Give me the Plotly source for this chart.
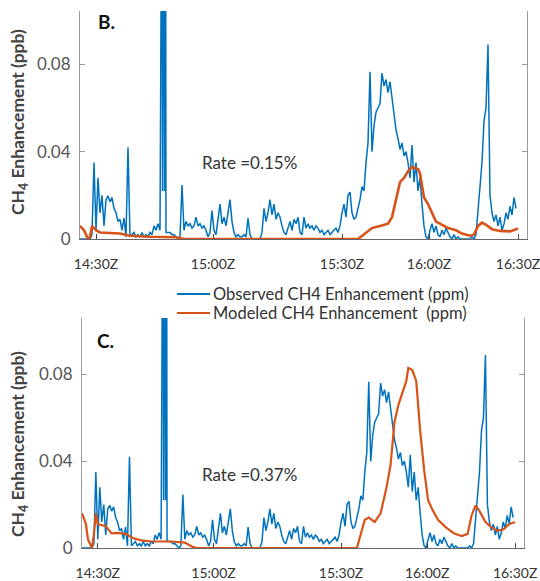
import plotly.graph_objects as go

# ---------------- data ----------------
# observed CH4 enhancement (ppm), one value per sample (sample index 0..219)
obs_ch4 = [
    0, 0, 0, 0, 0, 0, 0.002, 0.035, 0.004, 0.028,
    0.012, 0.02, 0.006, 0.018, 0.0197, 0.017, 0.019, 0.014, 0.012, 0.008,
    0.009, 0.004, 0.0096, 0.001, 0.042, 0.001, 0.002, 0.003, 0.001, 0.002,
    0.001, 0.003, 0.001, 0.002, 0.001, 0.003, 0.002, 0.006, 0.004, 0.007,
    0.004, 0.2, 0.2, 0.003, 0.003, 0.003, 0.002, 0.002, 0.001, 0.0,
    0.001, 0.0247, 0.004, 0.008, 0.006, 0.007, 0.005, 0.006, 0.01, 0.006,
    0.007, 0.005, 0.006, 0.004, 0.001, 0.003, 0.013, 0.004, 0.002, 0.009,
    0.016, 0.007, 0.01, 0.006, 0.012, 0.018, 0.008, 0.003, 0.001, 0.002,
    0.001, 0.001, 0.002, 0.001, 0.0096, 0.002, 0, 0, 0, 0,
    0, 0.003, 0.014, 0.008, 0.012, 0.018, 0.011, 0.016, 0.009, 0.012,
    0.01, 0.006, 0.003, 0.002, 0.005, 0.008, 0.004, 0.009, 0.007, 0.01,
    0.003, 0.002, 0.01, 0.005, 0.007, 0.005, 0.006, 0.004, 0.006, 0.005,
    0.003, 0.004, 0.002, 0.003, 0.004, 0.002, 0.003, 0.004, 0.005, 0.003,
    0.006, 0.012, 0.016, 0.01, 0.02, 0.0215, 0.012, 0.009, 0.01, 0.014,
    0.018, 0.024, 0.022, 0.035, 0.044, 0.0766, 0.04, 0.052, 0.058, 0.06,
    0.062, 0.076, 0.07, 0.073, 0.067, 0.072, 0.064, 0.058, 0.05, 0.046,
    0.041, 0.044, 0.038, 0.04, 0.035, 0.028, 0.043, 0.026, 0.035, 0.022,
    0.028, 0.016, 0.006, 0.001, 0, 0.004, 0.007, 0.003, 0.006, 0.002,
    0.001, 0.004, 0.002, 0.005, 0.003, 0.001, 0.0, 0.002, 0.0, 0.001,
    0, 0, 0, 0, 0, 0, 0.001, 0.0, 0.002, 0.012,
    0.022, 0.035, 0.054, 0.06, 0.089, 0.02, 0.012, 0.008, 0.011, 0.006,
    0.01, 0.004, 0.007, 0.012, 0.009, 0.015, 0.011, 0.019, 0.014,
]
obs_idx = list(range(len(obs_ch4)))

# high-frequency samples inside the short plume burst near 14:45Z
burst_idx = [40.75, 41.25, 41.75, 42.25, 42.75]
burst_ch4 = [0.2, 0.022, 0.2, 0.022, 0.2]

# modeled CH4 enhancement, panel B (rate 0.15%)
model_b_idx = [0, 2, 4, 5, 6, 8, 10, 15, 20, 25, 35, 48, 52, 139, 142, 146, 150,
               154, 156, 158, 160, 162, 164, 166, 169, 170, 172, 174, 176, 178,
               180, 184, 188, 191, 195, 197, 199, 201, 203, 206, 210, 215, 219]
model_b = [0.006, 0.004, 0.0, 0.001, 0.006, 0.004, 0.003, 0.0027, 0.0025, 0.0015,
           0.001, 0.0008, 0.0, 0.0, 0.002, 0.005, 0.006, 0.007, 0.01, 0.018,
           0.026, 0.028, 0.031, 0.033, 0.032, 0.03, 0.019, 0.016, 0.012, 0.008,
           0.007, 0.005, 0.004, 0.0025, 0.0015, 0.002, 0.006, 0.0075, 0.0065,
           0.0045, 0.0037, 0.0035, 0.0048]

# modeled CH4 enhancement, panel C (rate 0.37%)
model_c_idx = [0, 2, 3, 5, 6, 7, 8, 10, 12, 15, 18, 22, 26, 30, 35, 45, 52, 56, 58,
               139, 143, 145, 148, 151, 154, 156, 158, 160, 162, 164, 165, 167,
               169, 171, 173, 175, 177, 180, 184, 188, 192, 195, 197, 199, 201,
               204, 207, 210, 213, 216, 219]
model_c = [0.016, 0.011, 0.004, 0.0, 0.006, 0.016, 0.011, 0.0105, 0.01, 0.0067,
           0.007, 0.0065, 0.0045, 0.0035, 0.003, 0.003, 0.0025, 0.0005, 0.0,
           0.0, 0.013, 0.014, 0.012, 0.016, 0.028, 0.038, 0.058, 0.066, 0.072,
           0.077, 0.083, 0.082, 0.077, 0.054, 0.036, 0.022, 0.018, 0.013,
           0.0095, 0.0068, 0.0055, 0.0065, 0.015, 0.0196, 0.017, 0.012, 0.0095,
           0.008, 0.0085, 0.011, 0.012]

tick_idx = [8, 66.5, 131, 174.5, 219]
tick_text = ["14:30Z", "15:00Z", "15:30Z", "16:00Z", "16:30Z"]
y_ticks = [0, 0.04, 0.08]
y_tick_text = ["0", "0.04", "0.08"]
rate_labels = ["Rate =0.15%", "Rate =0.37%"]
panel_labels = ["B.", "C."]
legend_names = ["Observed CH4 Enhancement (ppm)",
                "Modeled CH4 Enhancement\u00a0\u00a0(ppm)"]

# merge burst samples into the observed series (sorted by sample index)
pairs = sorted(zip(obs_idx + burst_idx, obs_ch4 + burst_ch4), key=lambda p: p[0])
obs_x = [p[0] for p in pairs]
obs_y = [p[1] for p in pairs]

BLUE = "#0072BD"
ORANGE = "#D95319"
FONT = "Lato"
W, H = 540, 581


def px(x):
    return x / W


def py(y):
    return 1 - y / H


fig = go.Figure()

fig.add_trace(go.Scatter(x=obs_x, y=obs_y, mode="lines", name=legend_names[0],
                         line=dict(color=BLUE, width=1.5), xaxis="x", yaxis="y"))
fig.add_trace(go.Scatter(x=model_b_idx, y=model_b, mode="lines", name=legend_names[1],
                         line=dict(color=ORANGE, width=2.6), xaxis="x", yaxis="y"))
fig.add_trace(go.Scatter(x=obs_x, y=obs_y, mode="lines", name=legend_names[0],
                         line=dict(color=BLUE, width=1.5), xaxis="x2", yaxis="y2"))
fig.add_trace(go.Scatter(x=model_c_idx, y=model_c, mode="lines", name=legend_names[1],
                         line=dict(color=ORANGE, width=2.2), xaxis="x2", yaxis="y2"))


def xax(domain, anchor):
    return dict(domain=domain, anchor=anchor, range=[0, 223.5], automargin=False,
                tickvals=tick_idx, ticktext=tick_text, ticks="inside", ticklen=5,
                tickcolor="#444", showline=True, linecolor="#666", linewidth=1,
                showgrid=False, zeroline=False, mirror=False,
                tickfont=dict(family=FONT, size=14, color="#333"),
                ticklabelstandoff=12, ticklabeloverflow="allow")


def yax(domain, anchor, top):
    return dict(domain=domain, anchor=anchor, range=[0, top], automargin=False,
                tickvals=y_ticks, ticktext=y_tick_text, ticks="inside", ticklen=5,
                tickcolor="#999", showline=True, linecolor="#9a9a9a", linewidth=1,
                mirror="ticks", showgrid=False, zeroline=False,
                tickfont=dict(family=FONT, size=17, color="#555"),
                ticklabelstandoff=5)


fig.update_layout(
    width=W, height=H, margin=dict(l=0, r=0, t=0, b=0, autoexpand=False),
    paper_bgcolor="white", plot_bgcolor="white",
    xaxis=xax([px(80), px(527)], "y"),
    yaxis=yax([py(239), py(11)], "x", 0.1044),
    xaxis2=xax([px(82), px(524)], "y2"),
    yaxis2=yax([py(548), py(318)], "x2", 0.106),
    showlegend=False,
)

ann = []
shapes = []
# legend drawn as line samples + labels
for name, color, yc in zip(legend_names, [BLUE, ORANGE], [294, 313]):
    shapes.append(dict(type="line", xref="paper", yref="paper",
                       x0=px(177), x1=px(210), y0=py(yc), y1=py(yc),
                       line=dict(color=color, width=2.2)))
    ann.append(dict(text=name, x=px(211), y=py(yc), xref="paper", yref="paper",
                    showarrow=False, xanchor="left", yanchor="middle",
                    font=dict(family=FONT, size=16.5, color="#333")))
# y axis titles
for yc in (122, 444):
    ann.append(dict(text="<b>CH<sub>4</sub> Enhancement (ppb)</b>", x=px(19), y=py(yc),
                    xref="paper", yref="paper", showarrow=False, textangle=-90,
                    font=dict(family=FONT, size=17.5, color="#444"),
                    xanchor="center", yanchor="middle"))
# panel labels
for lbl, (lx, ly) in zip(panel_labels, [(106, 22), (105, 340)]):
    ann.append(dict(text="<b>%s</b>" % lbl, x=px(lx), y=py(ly), xref="paper",
                    yref="paper", showarrow=False,
                    font=dict(family=FONT, size=19, color="#111"),
                    xanchor="center", yanchor="middle"))
# rate labels
for lbl, (lx, ly) in zip(rate_labels, [(249, 162), (249, 474)]):
    ann.append(dict(text=lbl, x=px(lx), y=py(ly), xref="paper", yref="paper",
                    showarrow=False, font=dict(family=FONT, size=17, color="#333"),
                    xanchor="center", yanchor="middle"))
fig.update_layout(annotations=ann, shapes=shapes)

fig.write_html(
    "out.html",
    config={"displayModeBar": False},
    post_script="document.body.style.margin='0';document.body.style.overflow='hidden';",
)
